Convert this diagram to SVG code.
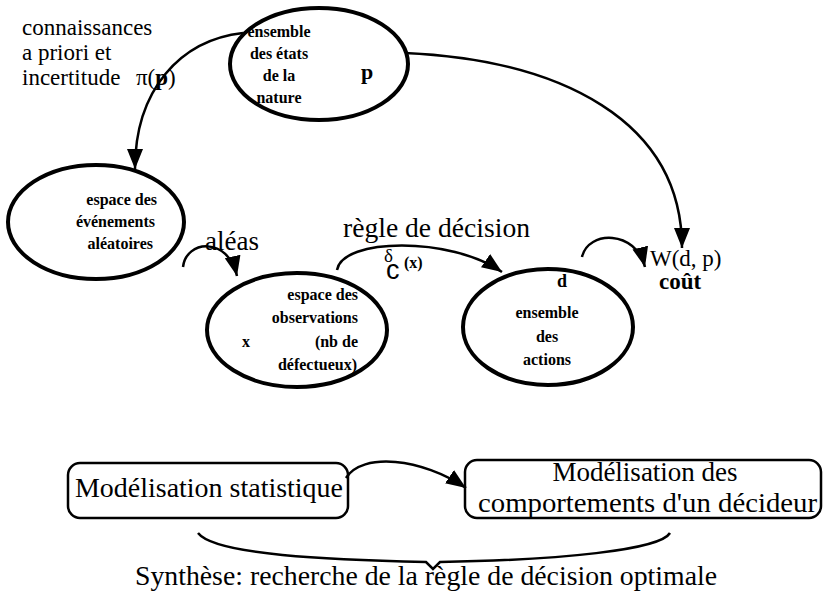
<svg xmlns="http://www.w3.org/2000/svg" width="823" height="602" viewBox="0 0 823 602">
<style>
.ell{fill:none;stroke:#000;stroke-width:4}
.box{fill:none;stroke:#000;stroke-width:2.5}
.con{fill:none;stroke:#000;stroke-width:2.5}
text{fill:#000}
</style>
<defs>
<marker id="ah" markerUnits="userSpaceOnUse" markerWidth="22" markerHeight="16" refX="20" refY="8" orient="auto">
<path d="M0,0 L20,8 L0,16 z" fill="#000"/>
</marker>
</defs>
<g font-family="'Liberation Serif', 'Times New Roman', serif">
<g font-size="23">
<text x="22" y="35">connaissances</text>
<text x="22" y="60">a priori et</text>
<text x="22" y="85">incertitude</text>
<text x="136" y="85">π(<tspan font-weight="bold">p</tspan>)</text>
</g>
<g id="etats" font-weight="bold" font-size="16">
<ellipse class="ell" cx="319" cy="64" rx="89" ry="56"/>
<text text-anchor="middle" x="279" y="37">ensemble</text>
<text text-anchor="middle" x="279" y="59">des états</text>
<text text-anchor="middle" x="279" y="81">de la</text>
<text text-anchor="middle" x="279" y="103">nature</text>
<text x="361" y="79" font-size="22">p</text>
</g>
<g id="evenements" font-weight="bold" font-size="16">
<ellipse class="ell" cx="96" cy="222" rx="88" ry="57"/>
<text text-anchor="end" x="157" y="205">espace des</text>
<text text-anchor="end" x="155" y="227">événements</text>
<text text-anchor="end" x="153" y="249">aléatoires</text>
</g>
<g id="observations" font-weight="bold" font-size="16">
<ellipse class="ell" cx="297" cy="330" rx="90" ry="57"/>
<text text-anchor="end" x="358" y="300">espace des</text>
<text text-anchor="end" x="358" y="323">observations</text>
<text x="242" y="347">x</text>
<text text-anchor="end" x="358" y="347">(nb de</text>
<text text-anchor="end" x="357" y="370">défectueux)</text>
</g>
<g id="actions" font-weight="bold" font-size="16">
<ellipse class="ell" cx="548" cy="327" rx="85" ry="58"/>
<text x="557" y="287" font-size="18">d</text>
<text text-anchor="middle" x="547" y="318">ensemble</text>
<text text-anchor="middle" x="547" y="342">des</text>
<text text-anchor="middle" x="547" y="365">actions</text>
</g>
<g id="cout" font-size="23">
<text x="650" y="266">W(d, p)</text>
<text x="659" y="289" font-weight="bold">coût</text>
</g>
<g id="box-stat" font-size="27">
<rect class="box" x="68" y="463" width="280" height="55" rx="12"/>
<text x="75" y="497" textLength="268" lengthAdjust="spacingAndGlyphs">Modélisation statistique</text>
</g>
<g id="box-decideur" font-size="27">
<rect class="box" x="465" y="460" width="356" height="58" rx="12"/>
<text text-anchor="middle" x="645" y="481">Modélisation des</text>
<text x="478" y="512" textLength="339" lengthAdjust="spacingAndGlyphs">comportements d'un décideur</text>
</g>
<g id="labels" font-size="27">
<text x="205" y="250">aléas</text>
<text x="343" y="237" textLength="187" lengthAdjust="spacingAndGlyphs">règle de décision</text>
<text font-size="19" x="384" y="262">δ</text>
<text font-family="'Liberation Sans', Arial, sans-serif" font-size="27" x="386" y="279">c</text>
<text font-weight="bold" font-size="16" x="404" y="268">(x)</text>
<text x="135" y="585" textLength="582" lengthAdjust="spacingAndGlyphs">Synthèse: recherche de la règle de décision optimale</text>
</g>
</g>
<g id="connectors">
<path class="con" d="M243 33 C180 40 135 90 135 169" marker-end="url(#ah)"/>
<path class="con" d="M405 53 C560 60 682 120 682 248" marker-end="url(#ah)"/>
<path class="con" d="M183 267 C186 240 228 236 237 276" marker-end="url(#ah)"/>
<path class="con" d="M337 270 C342 238 450 236 502 272" marker-end="url(#ah)"/>
<path class="con" d="M582 257 C588 230 636 230 645 267" marker-end="url(#ah)"/>
<path class="con" d="M346 478 C362 452 422 458 466 488" marker-end="url(#ah)"/>
<path class="con" d="M198 533 C215 555 330 560 426 562 L433 569 L440 562 C560 560 660 550 670 533"/>
</g>
</svg>
